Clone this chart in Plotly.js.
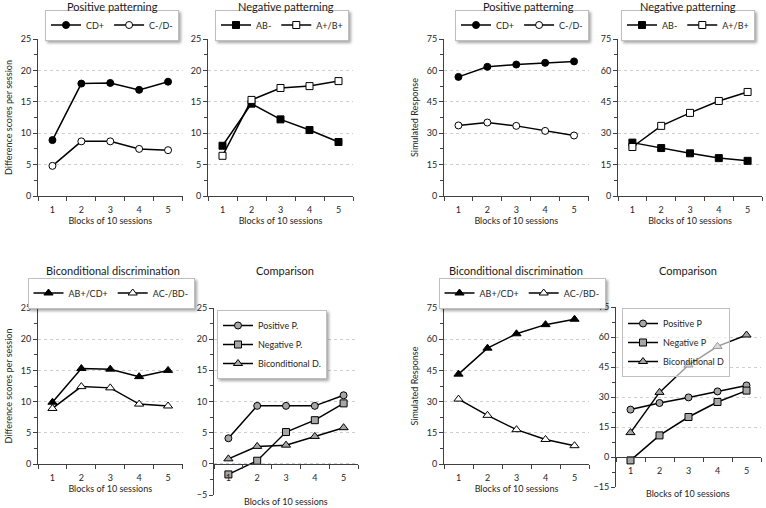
<!DOCTYPE html>
<html><head><meta charset="utf-8">
<script src="https://cdn.plot.ly/plotly-3.0.1.min.js"></script>
<style>
html,body{margin:0;padding:0;background:#fff}
#chart g[class^="legend"] > rect.bg{filter:drop-shadow(2px 2px 1.5px rgba(0,0,0,0.35));}
#chart g.legend8 > rect.bg{filter:none;}
</style>
</head><body><div id="chart" style="width:766px;height:508px"></div>
<script>
const blocks = [1, 2, 3, 4, 5];
// Empirical difference scores
const ppCDplus = [8.9, 17.9, 18.0, 16.9, 18.2];
const ppCDminus = [4.8, 8.7, 8.7, 7.5, 7.3];
const npABminus = [8.0, 14.7, 12.2, 10.5, 8.6];
const npABplus = [6.4, 15.3, 17.2, 17.5, 18.3];
const bdPlus = [9.9, 15.3, 15.2, 14.0, 15.0];
const bdMinus = [8.9, 12.4, 12.2, 9.6, 9.3];
const cmpPositive = [4.1, 9.3, 9.3, 9.3, 11.0];
const cmpNegative = [-1.7, 0.5, 5.1, 7.0, 9.7];
const cmpBicond = [0.8, 2.8, 3.0, 4.4, 5.8];
// Simulated responses
const sPpCDplus = [56.9, 61.7, 62.8, 63.6, 64.3];
const sPpCDminus = [33.7, 35.1, 33.5, 31.1, 28.9];
const sNpABminus = [25.5, 22.9, 20.4, 18.1, 16.8];
const sNpABplus = [23.4, 33.5, 39.7, 45.4, 49.7];
const sBdPlus = [43.2, 55.7, 62.6, 67.0, 69.6];
const sBdMinus = [31.2, 23.4, 16.5, 11.8, 8.8];
const sCmpPositive = [23.7, 27.0, 29.8, 32.8, 35.8];
const sCmpNegative = [-1.7, 10.8, 20.0, 27.5, 33.2];
const sCmpBicond = [12.2, 32.3, 46.0, 55.3, 61.0];

const W = 766, H = 508;
const FONT = 'Lato, "Open Sans", sans-serif';
const TXT = '#262626';
const AX = '#404040';
const xd = (a, b) => [a / W, b / W];
const yd = (t, b) => [1 - b / H, 1 - t / H];
const f = (s, c) => ({size: s, color: c || TXT, family: FONT, weight: 'normal'});

function xax(dom, anchor, title, extra) {
  return Object.assign({
    domain: dom, anchor: anchor, range: [0.5, 5.5], tickvals: blocks,
    ticks: 'outside', ticklen: 5, tickcolor: 'rgba(0,0,0,0)',
    minor: {tick0: 0.5, dtick: 1, ticks: 'outside', ticklen: 4, tickcolor: AX},
    showline: true, linecolor: AX, linewidth: 1, showgrid: false, zeroline: false,
    tickfont: f(9),
    title: {text: title, font: f(9), standoff: 2}
  }, extra || {});
}
function yax(dom, anchor, range, dt, title) {
  return {
    domain: dom, anchor: anchor, range: range, dtick: dt, ticks: 'outside', ticklen: 4, tickcolor: AX,
    minor: {dtick: dt / 2, ticks: 'outside', ticklen: 3, tickcolor: AX, showgrid: false},
    showline: true, linecolor: AX, linewidth: 1, showgrid: true, gridcolor: '#cfcfcf', griddash: 'dot',
    zeroline: false, tickfont: f(9),
    title: {text: title || '', font: f(9), standoff: 6}
  };
}
function tr(y, name, xa, ya, leg, sym, fill, size) {
  return {
    x: blocks, y: y, name: name, xaxis: xa, yaxis: ya, legend: leg, type: 'scatter', mode: 'lines+markers',
    line: {color: '#000', width: 1.5},
    marker: {symbol: sym, size: size || 7, color: fill, line: {color: '#000', width: 1}}
  };
}
const GREY = '#a6a6a6';
const data = [
  tr(ppCDplus, 'CD+', 'x', 'y', 'legend', 'circle', '#000'),
  tr(ppCDminus, 'C-/D-', 'x', 'y', 'legend', 'circle', '#fff'),
  tr(npABminus, 'AB-', 'x2', 'y2', 'legend2', 'square', '#000'),
  tr(npABplus, 'A+/B+', 'x2', 'y2', 'legend2', 'square', '#fff'),
  tr(sPpCDplus, 'CD+', 'x3', 'y3', 'legend3', 'circle', '#000'),
  tr(sPpCDminus, 'C-/D-', 'x3', 'y3', 'legend3', 'circle', '#fff'),
  tr(sNpABminus, 'AB-', 'x4', 'y4', 'legend4', 'square', '#000'),
  tr(sNpABplus, 'A+/B+', 'x4', 'y4', 'legend4', 'square', '#fff'),
  tr(bdPlus, 'AB+/CD+', 'x5', 'y5', 'legend5', 'triangle-up', '#000', 8),
  tr(bdMinus, 'AC-/BD-', 'x5', 'y5', 'legend5', 'triangle-up', '#fff', 8),
  tr(cmpPositive, 'Positive P.', 'x6', 'y6', 'legend6', 'circle', GREY),
  tr(cmpNegative, 'Negative P.', 'x6', 'y6', 'legend6', 'square', GREY),
  tr(cmpBicond, 'Biconditional D.', 'x6', 'y6', 'legend6', 'triangle-up', GREY, 8),
  tr(sBdPlus, 'AB+/CD+', 'x7', 'y7', 'legend7', 'triangle-up', '#000', 8),
  tr(sBdMinus, 'AC-/BD-', 'x7', 'y7', 'legend7', 'triangle-up', '#fff', 8),
  tr(sCmpPositive, 'Positive P', 'x8', 'y8', 'legend8', 'circle', GREY),
  tr(sCmpNegative, 'Negative P', 'x8', 'y8', 'legend8', 'square', GREY),
  tr(sCmpBicond, 'Biconditional D', 'x8', 'y8', 'legend8', 'triangle-up', GREY, 8)
];

function leg(cx, cy, orient, xanchor, bg) {
  return {
    orientation: orient || 'h', x: cx / W, y: 1 - cy / H, xanchor: xanchor || 'center', yanchor: orient === 'v' ? 'top' : 'middle',
    bgcolor: bg || '#fff', bordercolor: '#bfbfbf', borderwidth: 1, itemwidth: 30, tracegroupgap: 0,
    font: f(9), itemclick: false, itemdoubleclick: false
  };
}
function ttl(text, cx, cy) {
  return {text: text, x: cx / W, y: 1 - cy / H, xref: 'paper', yref: 'paper', showarrow: false,
    xanchor: 'center', yanchor: 'middle', font: f(11, '#1a1a1a')};
}
const BLK = 'Blocks of 10 sessions';
const layout = {
  width: W, height: H, margin: {l: 0, r: 0, t: 0, b: 0}, paper_bgcolor: '#fff', plot_bgcolor: 'rgba(0,0,0,0)',
  font: {family: FONT, color: TXT}, showlegend: true,
  xaxis: xax(xd(38, 182.5), 'y', BLK),
  yaxis: yax(yd(39, 196), 'x', [0, 25], 5, 'Difference scores per session'),
  xaxis2: xax(xd(208, 353), 'y2', BLK),
  yaxis2: yax(yd(39, 196), 'x2', [0, 25], 5),
  xaxis3: xax(xd(444, 588.5), 'y3', BLK),
  yaxis3: yax(yd(39, 196), 'x3', [0, 75], 15, 'Simulated Response'),
  xaxis4: xax(xd(618, 762), 'y4', BLK),
  yaxis4: yax(yd(39, 196), 'x4', [0, 75], 15),
  xaxis5: xax(xd(38, 182.5), 'y5', BLK),
  yaxis5: yax(yd(308, 464), 'x5', [0, 25], 5, 'Difference scores per session'),
  xaxis6: xax(xd(214, 358), 'free', '', {position: 1 - 464 / H}),
  yaxis6: yax(yd(308, 495), 'x6', [-5, 25], 5),
  xaxis7: xax(xd(444, 589), 'y7', BLK),
  yaxis7: yax(yd(308, 464), 'x7', [0, 75], 15, 'Simulated Response'),
  xaxis8: xax(xd(616, 761), 'free', '', {position: 1 - 457 / H}),
  yaxis8: yax(yd(307, 487), 'x8', [-15, 75], 15),
  legend: leg(112, 25), legend2: leg(282, 25), legend3: leg(522, 25), legend4: leg(688, 25),
  legend5: leg(111, 293), legend7: leg(522, 293),
  legend6: leg(217, 310, 'v', 'left'), legend8: leg(622, 308, 'v', 'left', 'rgba(255,255,255,0.6)'),
  annotations: [
    ttl('Positive patterning', 113, 7), ttl('Negative patterning', 286, 7),
    ttl('Positive patterning', 528, 7), ttl('Negative patterning', 688, 7),
    ttl('Biconditional discrimination', 113, 270), ttl('Comparison', 285, 270),
    ttl('Biconditional discrimination', 516, 270), ttl('Comparison', 688, 270),
    {text: BLK, x: 286 / W, y: 1 - 501 / H, xref: 'paper', yref: 'paper', showarrow: false, xanchor: 'center', yanchor: 'middle', font: f(9)},
    {text: BLK, x: 688 / W, y: 1 - 493 / H, xref: 'paper', yref: 'paper', showarrow: false, xanchor: 'center', yanchor: 'middle', font: f(9)}
  ]
};
Plotly.newPlot('chart', data, layout, {displayModeBar: false, staticPlot: true});
</script></body></html>
